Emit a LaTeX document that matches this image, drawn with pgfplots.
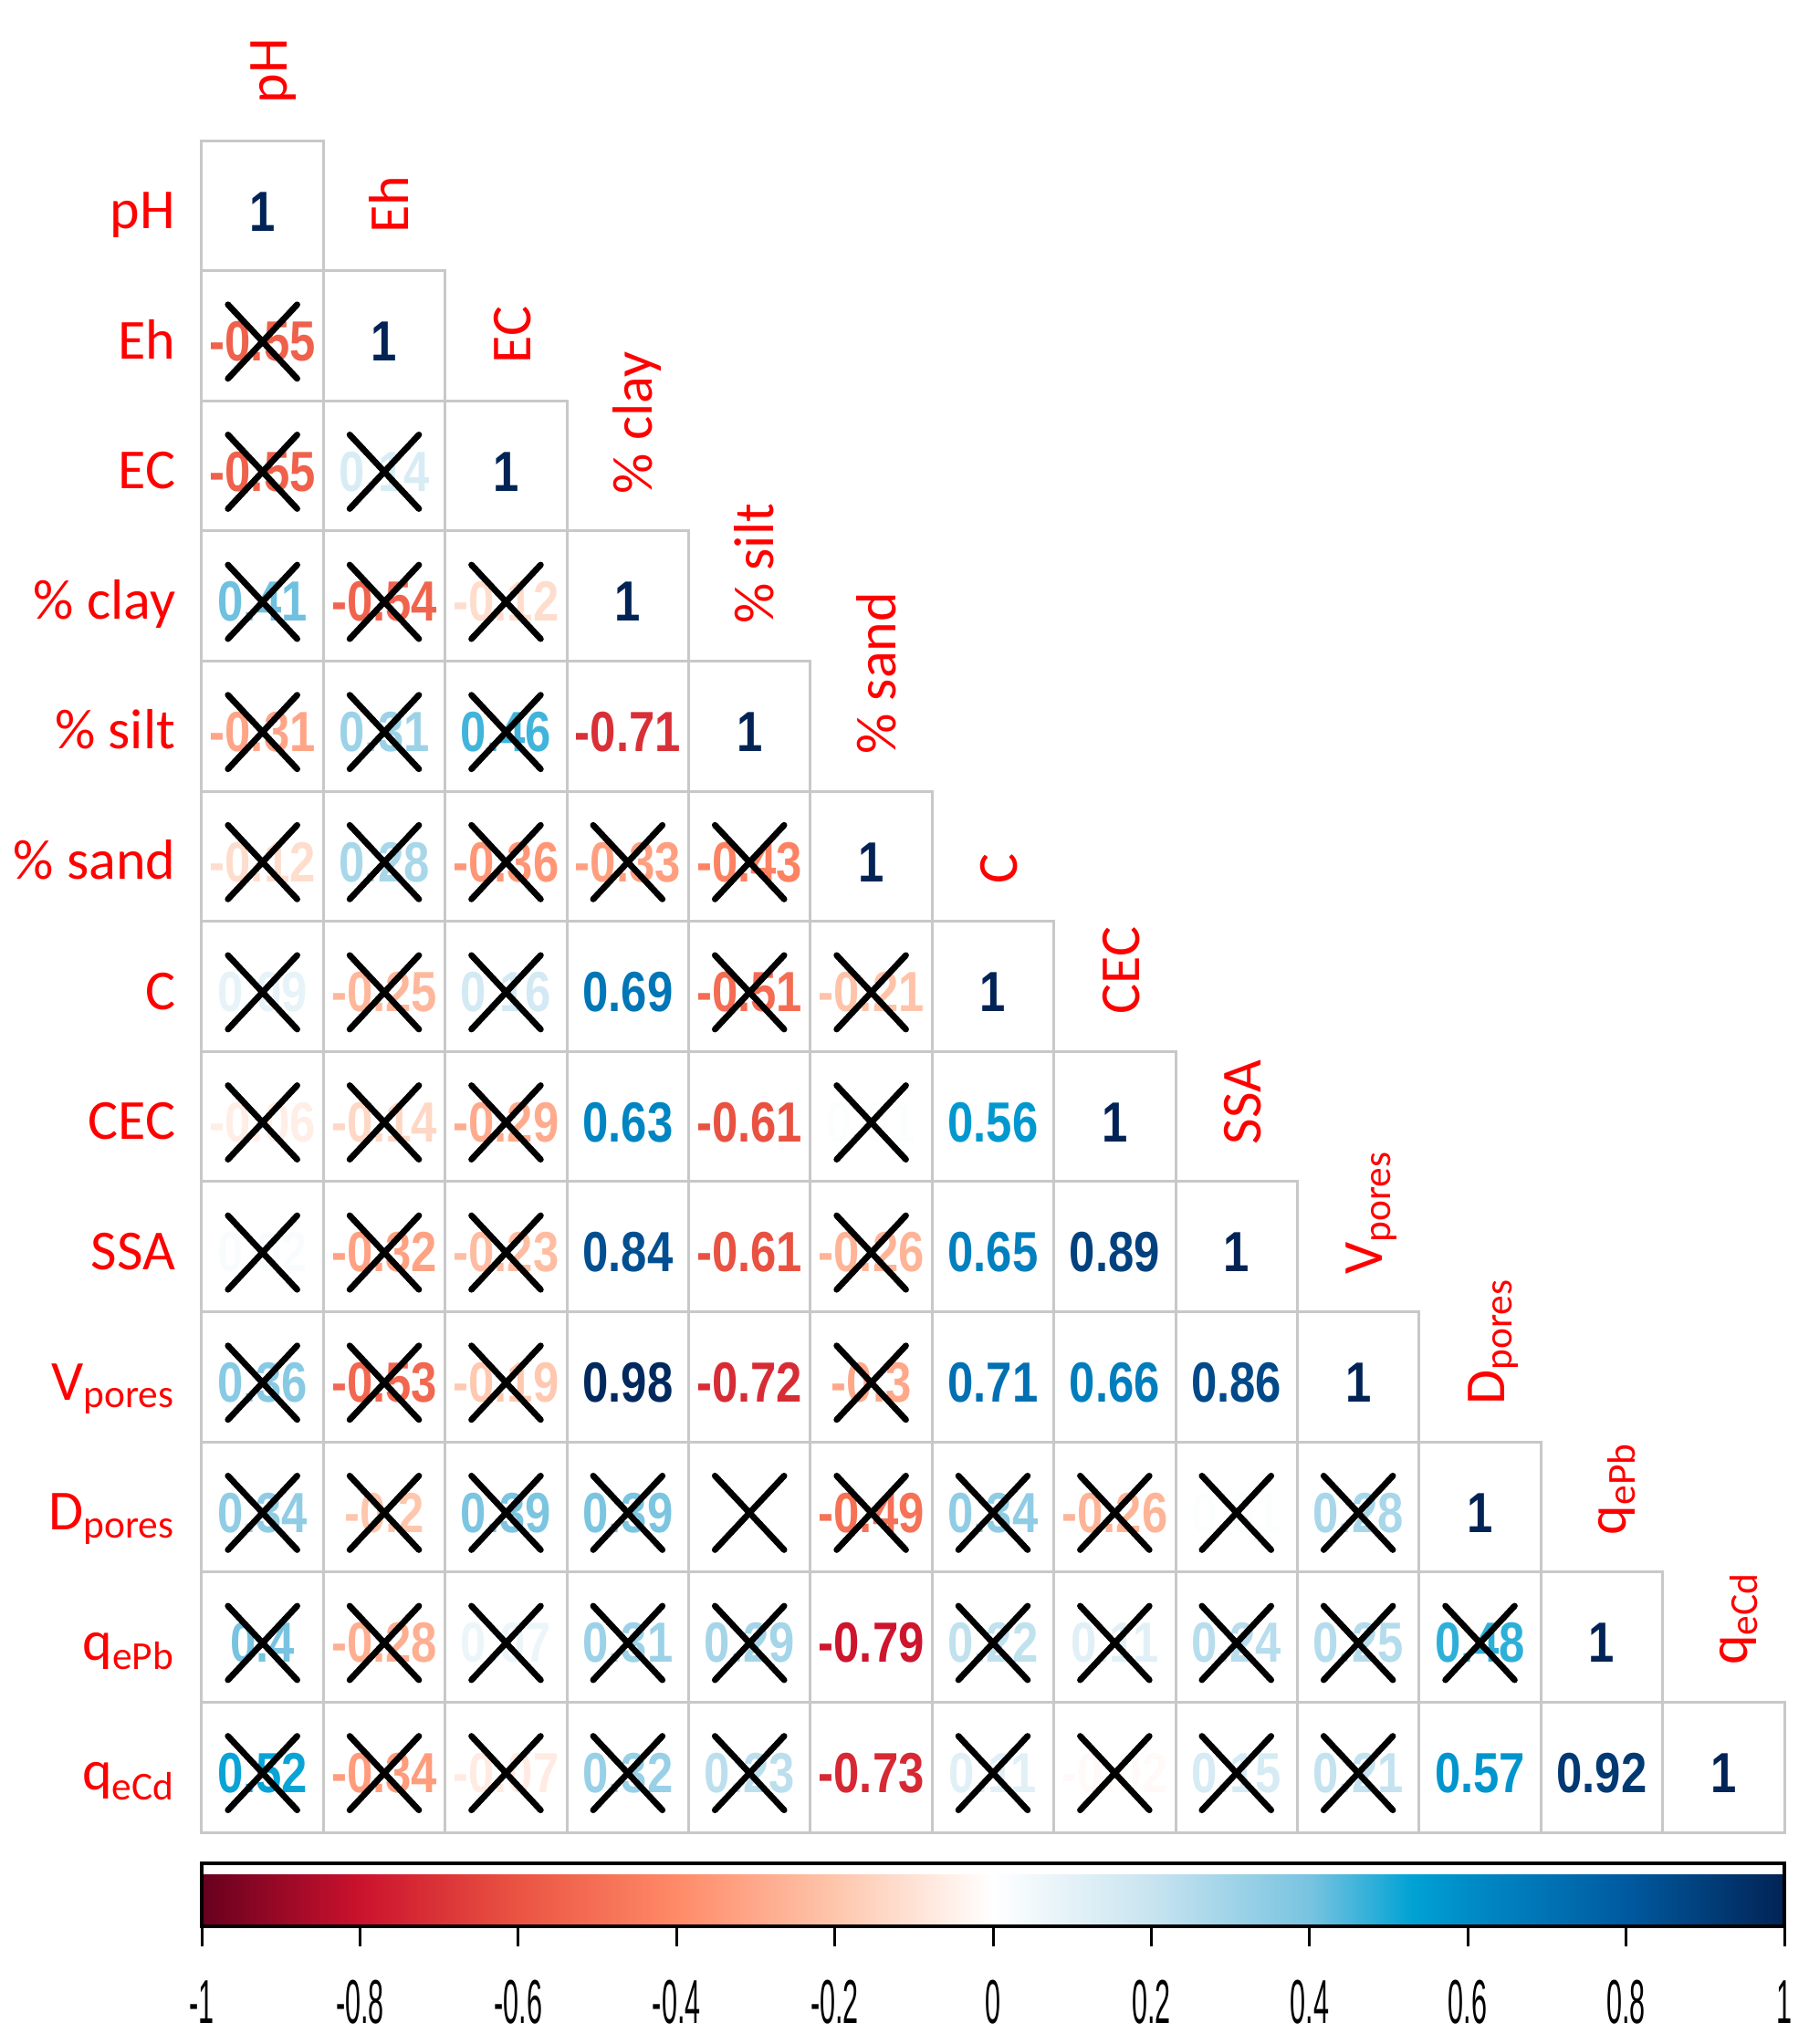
\documentclass[border=0pt]{standalone}
\usepackage{fontspec}
\setmainfont{Liberation Sans}
\newfontfamily\lblfont{Carlito}
\usepackage{pgfplots}
\usepackage{pgfplotstable}
\pgfplotsset{compat=1.18}

\definecolor{lblred}{RGB}{255,0,0}
\definecolor{cellgrid}{RGB}{200,200,200}

\pgfplotsset{
  colormap={corr}{
    rgb255(0pt)=(103,0,31); rgb255(2pt)=(203,18,45); rgb255(4pt)=(234,84,66);
    rgb255(6pt)=(255,138,104); rgb255(8pt)=(254,198,172); rgb255(10pt)=(255,255,255);
    rgb255(12pt)=(200,228,240); rgb255(14pt)=(120,195,224); rgb255(15.3pt)=(0,162,212);
    rgb255(16pt)=(0,140,200); rgb255(18pt)=(0,90,160); rgb255(20pt)=(2,35,85)
  },
}
\tikzset{
  collabel/.style={rotate=90, anchor=base west, inner sep=0pt, text=lblred,
    font=\lblfont\fontsize{15.5}{16}\selectfont},
}

% lower triangle: row, column, r; xm = column where the X is drawn (nan = significant)
\pgfplotstableread{
row col r xm
1 1 1 nan
2 1 -0.55 1
2 2 1 nan
3 1 -0.55 1
3 2 0.14 2
3 3 1 nan
4 1 0.41 1
4 2 -0.54 2
4 3 -0.12 3
4 4 1 nan
5 1 -0.31 1
5 2 0.31 2
5 3 0.46 3
5 4 -0.71 nan
5 5 1 nan
6 1 -0.12 1
6 2 0.28 2
6 3 -0.36 3
6 4 -0.33 4
6 5 -0.43 5
6 6 1 nan
7 1 0.09 1
7 2 -0.25 2
7 3 0.16 3
7 4 0.69 nan
7 5 -0.51 5
7 6 -0.21 6
7 7 1 nan
8 1 -0.06 1
8 2 -0.14 2
8 3 -0.29 3
8 4 0.63 nan
8 5 -0.61 nan
8 6 0.01 6
8 7 0.56 nan
8 8 1 nan
9 1 0.02 1
9 2 -0.32 2
9 3 -0.23 3
9 4 0.84 nan
9 5 -0.61 nan
9 6 -0.26 6
9 7 0.65 nan
9 8 0.89 nan
9 9 1 nan
10 1 0.36 1
10 2 -0.53 2
10 3 -0.19 3
10 4 0.98 nan
10 5 -0.72 nan
10 6 -0.3 6
10 7 0.71 nan
10 8 0.66 nan
10 9 0.86 nan
10 10 1 nan
11 1 0.34 1
11 2 -0.2 2
11 3 0.39 3
11 4 0.39 4
11 5 0 5
11 6 -0.49 6
11 7 0.34 7
11 8 -0.26 8
11 9 0.01 9
11 10 0.28 10
11 11 1 nan
12 1 0.4 1
12 2 -0.28 2
12 3 0.07 3
12 4 0.31 4
12 5 0.29 5
12 6 -0.79 nan
12 7 0.22 7
12 8 0.11 8
12 9 0.24 9
12 10 0.25 10
12 11 0.48 11
12 12 1 nan
13 1 0.52 1
13 2 -0.34 2
13 3 -0.07 3
13 4 0.32 4
13 5 0.23 5
13 6 -0.73 nan
13 7 0.11 7
13 8 -0.02 8
13 9 0.15 9
13 10 0.21 10
13 11 0.57 nan
13 12 0.92 nan
13 13 1 nan
}\corrdata

\begin{document}
\begin{tikzpicture}
\useasboundingbox (-55.25pt,-58pt) rectangle (440.25pt,502pt);
\begin{axis}[
  scale only axis, width=433.5pt, height=463.5pt,
  xmin=0.5, xmax=13.5, ymin=0.5, ymax=13.5, y dir=reverse,
  axis line style={draw=none}, clip=false,
  xtick=\empty, ytick={1,...,13},
  yticklabels={pH,Eh,EC,\% clay,\% silt,\% sand,C,CEC,SSA,V\textsubscript{pores},D\textsubscript{pores},q\textsubscript{ePb},q\textsubscript{eCd}},
  major tick length=0pt,
  yticklabel style={font=\lblfont\fontsize{15.5}{16}\selectfont, text=lblred,
    anchor=base east, inner sep=0pt, xshift=-7pt, yshift=-6.3pt},
  colormap name=corr,
  point meta min=-1, point meta max=1,
  colorbar horizontal,
  colorbar style={
    at={(parent axis.south west)}, anchor=north west,
    scale only axis, width=433.5pt, height=17.25pt,
    xtick={-1,-0.8,-0.6,-0.4,-0.2,0,0.2,0.4,0.6,0.8,1},
    xticklabels={-1,-0.8,-0.6,-0.4,-0.2,0,0.2,0.4,0.6,0.8,1},
    xtick pos=left, xticklabel pos=left, ytick=\empty,
    tick align=outside, major tick length=5.4pt,
    major tick style={black, line width=0.75pt},
    axis line style={black, line width=1pt},
    xticklabel style={font=\fontsize{17}{17}\selectfont, xscale=0.45,
      anchor=north, inner sep=0pt, yshift=-9.2pt},
  },
]
% cell borders
\pgfplotsforeachungrouped \i in {1,...,13}{%
  \pgfplotsforeachungrouped \j in {1,...,\i}{%
    \edef\temp{\noexpand\draw[cellgrid, line width=0.75pt]
      (axis cs:\j-0.5,\i-0.5) rectangle (axis cs:\j+0.5,\i+0.5);}%
    \temp
  }%
}

% coefficients, text coloured from the colormap
\addplot[draw=none, mark=none,
  point meta=explicit symbolic,
  visualization depends on={500*(\thisrow{r}+1) \as \cval},
  nodes near coords={\pgfplotscolormapdefinemappedcolor{\cval}\textcolor{mapped color}{\pgfplotspointmeta}},
  every node near coord/.append style={anchor=center,
    inner sep=0pt, yshift=-1.6pt, xscale=0.82,
    font=\bfseries\fontsize{15.5}{16}\selectfont},
] table[x=col, y=row, meta=r] {\corrdata};

% non-significant cells
\addplot[only marks, mark=x, mark size=13.4pt, unbounded coords=discard,
  mark options={black, line width=1.7pt, line cap=round, yscale=1.07, yshift=-1.5pt}]
  table[x=xm, y=row] {\corrdata};

% column labels on the diagonal
\node[collabel] at (axis cs:1.2,0.22) {pH};
\node[collabel] at (axis cs:2.2,1.22) {Eh};
\node[collabel] at (axis cs:3.2,2.22) {EC};
\node[collabel] at (axis cs:4.2,3.22) {\% clay};
\node[collabel] at (axis cs:5.2,4.22) {\% silt};
\node[collabel] at (axis cs:6.2,5.22) {\% sand};
\node[collabel] at (axis cs:7.2,6.22) {C};
\node[collabel] at (axis cs:8.2,7.22) {CEC};
\node[collabel] at (axis cs:9.2,8.22) {SSA};
\node[collabel] at (axis cs:10.2,9.22) {V\textsubscript{pores}};
\node[collabel] at (axis cs:11.2,10.22) {D\textsubscript{pores}};
\node[collabel] at (axis cs:12.2,11.22) {q\textsubscript{ePb}};
\node[collabel] at (axis cs:13.2,12.22) {q\textsubscript{eCd}};
\end{axis}
\end{tikzpicture}
\end{document}
